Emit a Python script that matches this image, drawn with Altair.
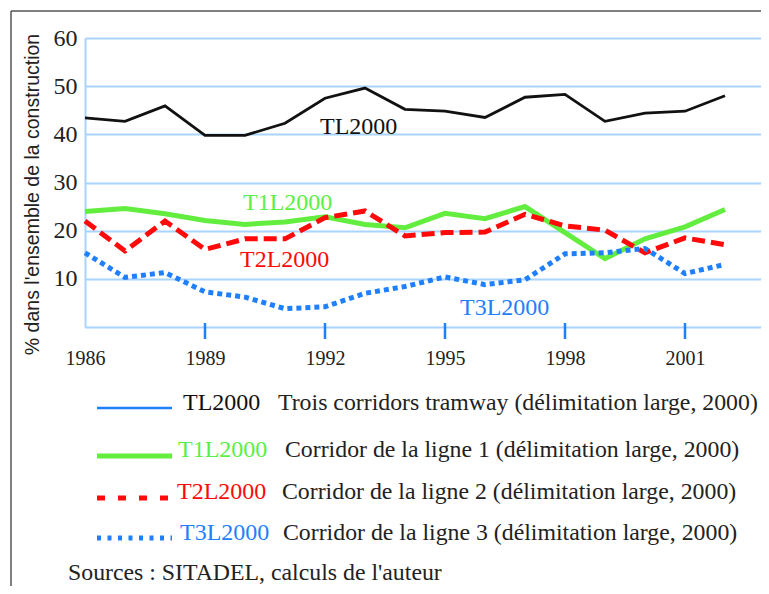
import altair as alt
import pandas as pd

# ---------------- data ----------------
years = list(range(1986, 2003))
tl = [43.4, 42.7, 45.9, 39.8, 39.8, 42.3, 47.5, 49.6, 45.2, 44.8, 43.5, 47.7, 48.3, 42.7, 44.4, 44.8, 48.0]
t1 = [24.0, 24.6, 23.5, 22.1, 21.3, 21.8, 22.9, 21.3, 20.6, 23.6, 22.5, 25.0, 19.6, 14.2, 18.3, 20.8, 24.4]
t2 = [22.0, 15.8, 22.0, 16.1, 18.3, 18.3, 22.7, 24.1, 18.9, 19.6, 19.7, 23.4, 21.0, 20.1, 15.4, 18.5, 17.1]
t3 = [15.4, 10.3, 11.3, 7.3, 6.2, 3.8, 4.2, 7.0, 8.4, 10.4, 8.8, 9.8, 15.2, 15.4, 16.3, 11.1, 13.0]

label_text = ["TL2000", "T1L2000", "T2L2000", "T3L2000"]
label_year = [1991.875, 1989.95, 1989.875, 1995.375]
label_value = [41.6, 25.7, 13.9, 3.9]

x_tick_labels = [1986, 1989, 1992, 1995, 1998, 2001]
x_tick_marks = [1989, 1992, 1995, 1998, 2001]
y_tick_labels = [10, 20, 30, 40, 50, 60]

legend_keys = ["TL2000", "T1L2000", "T2L2000", "T3L2000"]
legend_desc = [
    "Trois corridors tramway (délimitation large, 2000)",
    "Corridor de la ligne 1 (délimitation large, 2000)",
    "Corridor de la ligne 2 (délimitation large, 2000)",
    "Corridor de la ligne 3 (délimitation large, 2000)",
]
source_text = "Sources : SITADEL, calculs de l'auteur"

# ---------------- styles ----------------
BLACK = "#111111"
GREEN = "#63ee3f"
GREEN_TXT = "#5aef46"
RED = "#ff0a0a"
BLUE = "#1f80ff"
GRID = "#a8d4ff"
TEXT = "#222222"
FRAME = "#555555"
SERIF = "Liberation Serif, Times New Roman, serif"
SANS = "Liberation Sans, Arial, sans-serif"

W, H = 676, 289

x_scale = alt.Scale(domain=[1986, 1986 + W / 40.0], nice=False, zero=False)
y_scale = alt.Scale(domain=[0, 60], nice=False, zero=True)

x_axis = alt.Axis(values=x_tick_labels, format="d", labelFont=SERIF, labelFontSize=20,
                  labelColor=TEXT, domainColor=GRID, domainWidth=2, ticks=False, tickSize=0,
                  labelPadding=31, labelBaseline="middle", grid=False, title=None,
                  labelFlush=False, labelOverlap=False)
y_axis = alt.Axis(values=y_tick_labels, labelFont=SERIF, labelFontSize=24, labelColor=TEXT,
                  labelPadding=8, ticks=False, tickSize=0, domainColor=GRID, domainWidth=2,
                  grid=True, gridColor=GRID, gridWidth=2,
                  title="% dans l'ensemble de la construction", titleFont=SANS,
                  titleFontSize=19.5, titleFontWeight="normal", titleColor=TEXT,
                  titleX=-53, titleY=156, titleAngle=270, titleAlign="center",
                  titleBaseline="middle")

X = alt.X("year:Q", scale=x_scale, axis=x_axis)
Y = alt.Y("value:Q", scale=y_scale, axis=y_axis)


def series_df(vals):
    return pd.DataFrame({"year": years, "value": vals})


line_tl = alt.Chart(series_df(tl)).mark_line(color=BLACK, strokeWidth=2.8).encode(x=X, y=Y)
line_t1 = alt.Chart(series_df(t1)).mark_line(color=GREEN, strokeWidth=5).encode(x=X, y=Y)
line_t2 = alt.Chart(series_df(t2)).mark_line(color=RED, strokeWidth=5, strokeDash=[13, 6]).encode(x=X, y=Y)
line_t3 = alt.Chart(series_df(t3)).mark_line(color=BLUE, strokeWidth=5, strokeDash=[5, 4]).encode(x=X, y=Y)

ticks = alt.Chart(pd.DataFrame({"year": x_tick_marks})).mark_rule(color=BLUE, strokeWidth=2.5).encode(
    x=X, y=alt.value(285), y2=alt.value(301))

lab_df = pd.DataFrame({"year": label_year, "value": label_value, "txt": label_text})
labels = alt.Chart(lab_df).mark_text(align="left", baseline="middle", font=SERIF, fontSize=24).encode(
    x=X, y=Y, text="txt:N",
    color=alt.Color("txt:N", scale=alt.Scale(domain=label_text, range=[BLACK, GREEN_TXT, RED, BLUE]),
                    legend=None))

one = pd.DataFrame({"a": [0]})

# frame (top and left border lines)
frame_top = alt.Chart(one).mark_rule(color=FRAME, strokeWidth=1.5).encode(
    x=alt.value(-74), x2=alt.value(W), y=alt.value(-27))
frame_left = alt.Chart(one).mark_rule(color=FRAME, strokeWidth=1.5).encode(
    x=alt.value(-74), y=alt.value(-27), y2=alt.value(548))

# legend
leg_line_y = [370, 418, 460, 500]
leg_text_y = [365, 412, 454, 495]
leg_key_x = [98, 93, 92, 95]
leg_desc_x = [193, 200, 197, 198]
leg_line_color = [BLUE, GREEN, RED, BLUE]
leg_line_width = [2.5, 5, 5, 5]
leg_line_dash = [[1, 0], [1, 0], [8, 13], [4, 6.5]]
leg_key_color = [BLACK, GREEN_TXT, RED, BLUE]

legend_layers = []
for i in range(4):
    legend_layers.append(
        alt.Chart(one).mark_rule(color=leg_line_color[i], strokeWidth=leg_line_width[i],
                                 strokeDash=leg_line_dash[i]).encode(
            x=alt.value(12), x2=alt.value(87), y=alt.value(leg_line_y[i])))
    legend_layers.append(
        alt.Chart(one).mark_text(align="left", baseline="middle", font=SERIF, fontSize=24,
                                 color=leg_key_color[i], text=legend_keys[i]).encode(
            x=alt.value(leg_key_x[i]), y=alt.value(leg_text_y[i])))
    legend_layers.append(
        alt.Chart(one).mark_text(align="left", baseline="middle", font=SERIF, fontSize=23.8,
                                 color=TEXT, text=legend_desc[i]).encode(
            x=alt.value(leg_desc_x[i]), y=alt.value(leg_text_y[i])))

source = alt.Chart(one).mark_text(align="left", baseline="middle", font=SERIF, fontSize=23.8,
                                  color=TEXT, text=source_text).encode(
    x=alt.value(-17), y=alt.value(535))

chart = alt.layer(
    line_tl, line_t1, line_t2, line_t3, ticks, labels, frame_top, frame_left,
    *legend_layers, source
).properties(
    width=W, height=H,
    autosize=alt.AutoSizeParams(type="none"),
    padding={"left": 77, "top": 30, "right": 0, "bottom": 259},
    background="white",
).configure_view(strokeWidth=0)

chart.save("out.html", embed_options={"renderer": "svg", "actions": False})
